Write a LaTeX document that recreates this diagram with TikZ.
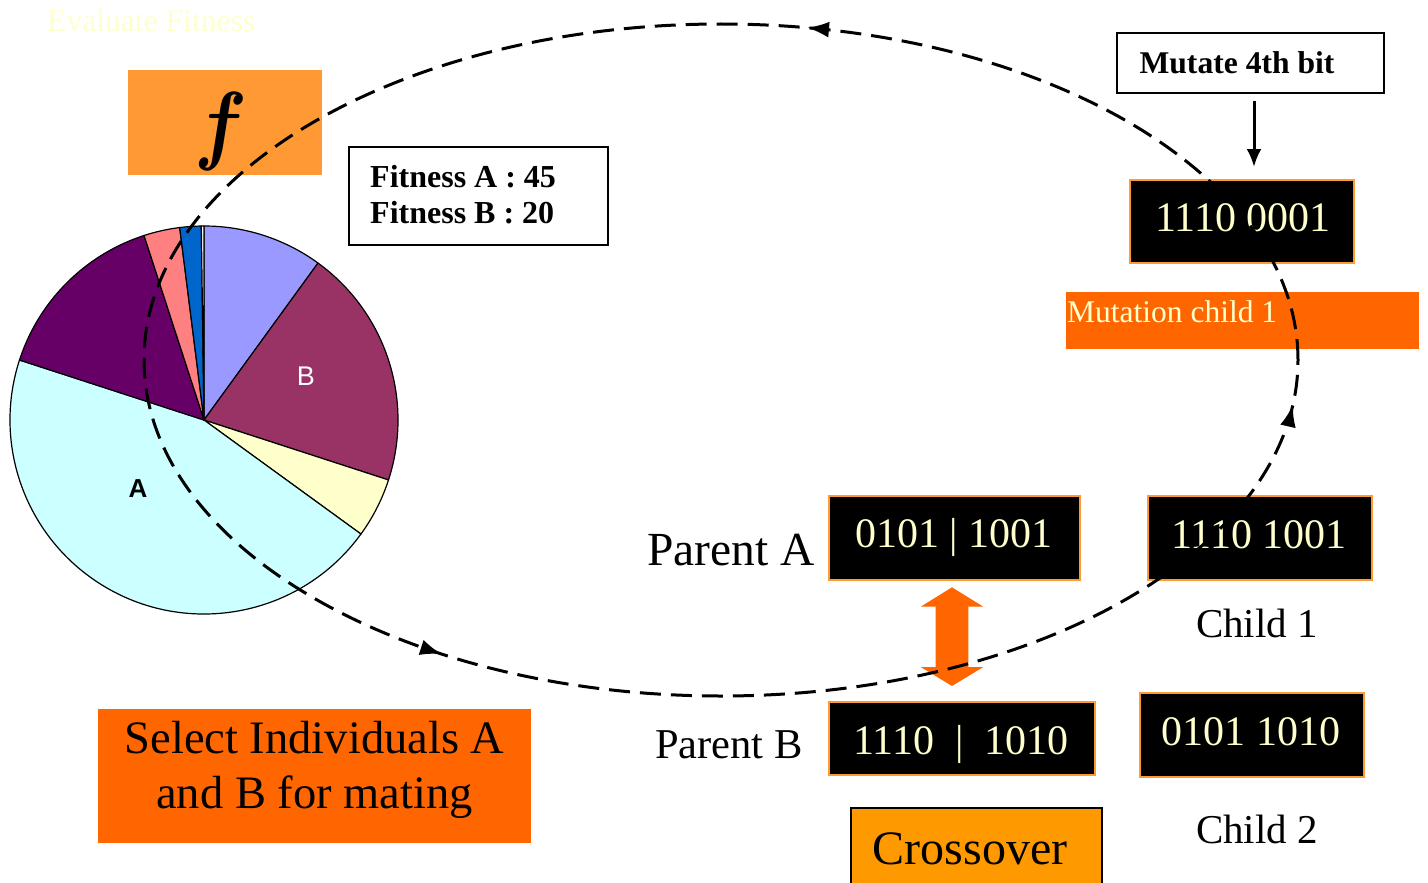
\documentclass[tikz,border=0pt]{standalone}
\usepackage{fontspec}
\usepackage{graphicx}
\setmainfont{Liberation Serif}
\newfontfamily\arialfont{Liberation Sans}
\usetikzlibrary{arrows.meta,decorations.markings}
\definecolor{orA}{HTML}{FF9933}
\definecolor{orB}{HTML}{FF6600}
\definecolor{orC}{HTML}{FF9900}
\definecolor{cream}{HTML}{FFFFCC}
\definecolor{lav}{HTML}{9999FF}
\definecolor{bmag}{HTML}{993366}
\definecolor{pyel}{HTML}{FFFFCC}
\definecolor{acyan}{HTML}{CCFFFF}
\definecolor{purp}{HTML}{660066}
\definecolor{pinkc}{HTML}{FF8080}
\definecolor{bluc}{HTML}{0066CC}
\newcommand{\fsz}[1]{\fontsize{#1}{#1}\selectfont}
\begin{document}
\begin{tikzpicture}[x=1pt,y=1pt,
  bitbox/.style={fill=black, draw=orA, line width=2pt, inner sep=0pt},
  bittext/.style={text=cream, font=\fsz{42}, inner sep=0pt, anchor=base},
  plain/.style={inner sep=0pt, anchor=base},
  wbox/.style={draw=black, line width=1.5pt, fill=white, inner sep=0pt},
  slice/.style={draw=black, line width=1.2pt, line join=round},
  cycleline/.style={line width=3pt, dash pattern=on 21pt off 10pt},
  cyctip/.tip={Latex[length=22pt,width=16pt]}
]
\clip (0,0) rectangle (1428,-883);

% Evaluate Fitness
\node[plain, anchor=base west, text=cream, font=\fsz{31.6}] (evaltxt) at (47,-32) {Evaluate Fitness};

% f box
\node[fill=orA, minimum width=194pt, minimum height=105pt, inner sep=0pt] (fbox) at (225,-122.5) {};
\node[plain, font=\fsz{10}] (ftxt) at (221,-153) {\scalebox{7.8}[8.8]{\boldmath$f$}};

% Fitness box
\node[wbox, minimum width=259pt, minimum height=98pt] (fitbox) at (478.5,-196) {};
\node[plain, anchor=base west, font=\fsz{32}\bfseries] (fitA) at (370,-187) {Fitness A : 45};
\node[plain, anchor=base west, font=\fsz{32}\bfseries] (fitB) at (370,-223) {Fitness B : 20};

% Pie chart
\coordinate (pc) at (204,-420);
\foreach \s/\e/\c in {90/54/lav, 54/-18/bmag, -18/-36/pyel, -36/-198/acyan, -198/-252/purp, -252/-262.8/pinkc, -262.8/-269.2/bluc, -269.2/-270/white}
  \filldraw[slice, fill=\c] (pc) -- ++(\s:194) arc[start angle=\s, end angle=\e, radius=194] -- cycle;
\node[text=white, font=\arialfont\fsz{27}, inner sep=0pt] (lblB) at (306,-376) {B};
\node[font=\arialfont\bfseries\fsz{26}, inner sep=0pt] (lblA) at (138,-489) {A};

% Mutation
\node[wbox, minimum width=267pt, minimum height=60pt] (mutlbl) at (1250.5,-63) {};
\node[plain, font=\fsz{31.6}\bfseries] (mutlbltxt) at (1237,-74) {Mutate 4th bit};
\node[bitbox, minimum width=224pt, minimum height=83pt] (mut) at (1242,-221.5) {};
\node[bittext] (mut-t) at (1243,-231) {1110 0001};
\draw[line width=3pt, -{Latex[length=18pt,width=15pt]}, shorten <=7pt, shorten >=12pt] (mutlbl.south -| 1254,0) -- (mut.north -| 1254,0);
\node[fill=orB, minimum width=353pt, minimum height=57pt, inner sep=0pt] (mutc) at (1242.5,-320.5) {};
\node[plain, anchor=base west, text=cream, font=\fsz{31.5}] (mutc-t) at (1067,-322) {Mutation child 1};

% Parents and children
\node[plain, anchor=base west, font=\fsz{47.5}] (pAl) at (647,-565) {Parent A};
\node[bitbox, minimum width=251pt, minimum height=84pt] (pa) at (954.5,-538) {};
\node[bittext] (pa-t) at (954,-547) {0101 | 1001};
\node[bitbox, minimum width=224pt, minimum height=84pt] (c1) at (1260,-538) {};
\node[bittext] (c1-t) at (1259,-548) {1110 1001};
\node[plain, font=\fsz{41}] (c1l) at (1257,-637) {Child 1};

\node[plain, anchor=base west, font=\fsz{42.5}] (pBl) at (655,-758) {Parent B};
\node[bitbox, minimum width=266pt, minimum height=73pt] (pb) at (962,-738.5) {};
\node[bittext] (pb-t) at (961,-754) {1110 \ | \ 1010};
\node[bitbox, minimum width=224pt, minimum height=84pt] (c2) at (1252,-735) {};
\node[bittext] (c2-t) at (1251,-745) {0101 1010};
\node[plain, font=\fsz{41}] (c2l) at (1257,-843) {Child 2};

% Crossover
\node[fill=orC, draw=black, line width=2pt, minimum width=251pt, minimum height=90pt, inner sep=0pt] (cross) at (976.5,-853) {};
\node[plain, font=\fsz{48}] (cross-t) at (970,-864) {Crossover};
\fill[orB] (952,-587.3) -- (983.3,-606.7) -- (968.3,-606.7) -- (968.3,-667) -- (983.3,-667) -- (952,-686)
  -- (920.7,-667) -- (935.7,-667) -- (935.7,-606.7) -- (920.7,-606.7) -- cycle;

% Select
\node[fill=orB, minimum width=433pt, minimum height=134pt, inner sep=0pt] (sel) at (314.3,-776.3) {};
\node[plain, font=\fsz{46.5}] (sel-t1) at (314.5,-753.3) {Select Individuals A};
\node[plain, font=\fsz{46.5}] (sel-t2) at (314.5,-808.3) {and B for mating};

% Cycle
\draw[cycleline, postaction={decorate}, decoration={markings,
   mark=at position 0.2205 with {\arrow{cyctip}},
   mark=at position 0.6530 with {\arrow{cyctip}},
   mark=at position 0.9845 with {\arrow{cyctip}}}]
  (721,-360) ellipse [x radius=577, y radius=336];
\end{tikzpicture}
\end{document}
